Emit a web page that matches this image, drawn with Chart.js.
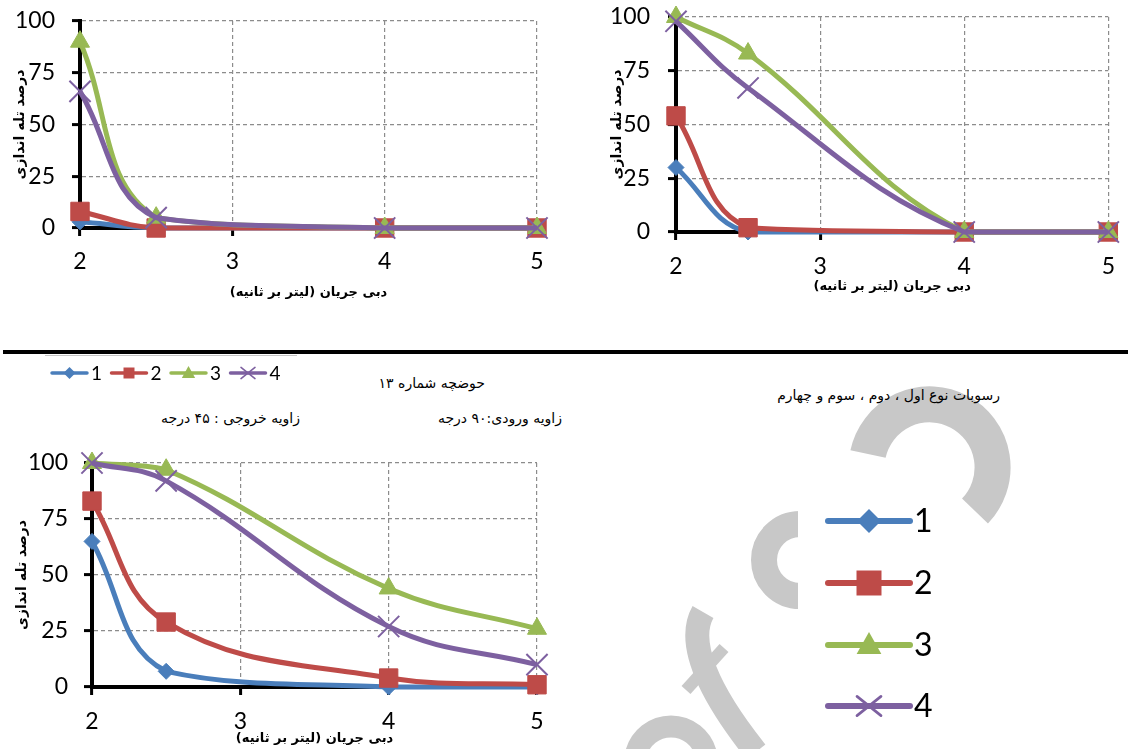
<!DOCTYPE html>
<html>
<head>
<meta charset="utf-8">
<script src="https://cdn.jsdelivr.net/npm/chart.js@4.4.0/dist/chart.umd.min.js"></script>
<style>
body{margin:0;background:#fff;width:1128px;height:749px;overflow:hidden;position:relative;font-family:"DejaVu Sans",sans-serif}
canvas{position:absolute}
.fa{position:absolute;direction:rtl;font-size:14px;line-height:18px;white-space:nowrap;color:#000}
#wm{position:absolute;left:0;top:0}
</style>
</head>
<body>
<svg id="wm" width="1128" height="749">
  <g fill="none" stroke="#c8c8c8">
    <path d="M 868 454 A 63 63 0 1 1 975 511" stroke-width="36"/>
    <path d="M 800 524 A 36 36 0 0 0 800 596" stroke-width="26"/>
    <path d="M 703 612 C 686 642, 708 692, 756 752" stroke-width="24"/>
    <path d="M 686 690 L 724 648" stroke-width="12"/>
    <path d="M 636 754 A 36 36 0 0 1 706 754" stroke-width="22"/>
  </g>
  <rect x="798" y="460" width="160" height="280" fill="#fff"/>
</svg>

<div style="position:absolute;left:3px;top:350px;width:1125px;height:4px;background:#000"></div>
<div style="position:absolute;left:45px;top:355px;width:252px;height:1px;background:#c4c4c4"></div>

<div class="fa" style="right:643px;top:374px">حوضچه شماره ۱۳</div>
<div class="fa" style="right:566px;top:409px">زاویه ورودی:۹۰ درجه</div>
<div class="fa" style="right:828px;top:409px">زاویه خروجی : ۴۵ درجه</div>
<div class="fa" style="right:128px;top:386px">رسوبات نوع اول ، دوم ، سوم و چهارم</div>

<canvas id="chart1" width="560" height="305" style="left:0;top:0"></canvas>
<canvas id="chart2" width="538" height="300" style="left:590px;top:0"></canvas>
<canvas id="chart3" width="560" height="309" style="left:0;top:440px"></canvas>
<canvas id="legSmall" width="300" height="30" style="left:40px;top:358px"></canvas>
<canvas id="legBig" width="160" height="240" style="left:800px;top:490px"></canvas>

<script>
// flow rate (x) and series
const flowRates = [2, 2.5, 4, 5];
const seriesNames = ['1', '2', '3', '4'];
const xTicks = [2, 3, 4, 5];
const yTicks = [0, 25, 50, 75, 100];

// top-left chart
const topLeft1 = [3, 0, 0, 0];
const topLeft2 = [8, 0, 0, 0];
const topLeft3 = [90, 5, 0, 0];
const topLeft4 = [66, 5, 0, 0];

// top-right chart
const topRight1 = [30, 0, 0, 0];
const topRight2 = [54, 2, 0, 0];
const topRight3 = [100, 83, 0, 0];
const topRight4 = [98, 67, 0, 0];

// bottom chart (basin 13)
const bottom1 = [65, 7, 0, 0];
const bottom2 = [83, 29, 4, 1];
const bottom3 = [100, 97, 44, 26];
const bottom4 = [100, 92, 27, 10];

const colors = ['#4a7ebb', '#be4b48', '#98b954', '#7d60a0'];
const markers = ['rectRot', 'rect', 'triangle', 'crossRot'];
const markerSizes = [8, 13, 11, 15];

const xTitle = 'دبی جریان (لیتر بر ثانیه)';
const yTitle = 'درصد تله اندازی';

function makeDatasets(series) {
  return series.map((vals, i) => ({
    label: seriesNames[i],
    data: flowRates.map((x, j) => ({x: x, y: vals[j]})),
    borderColor: colors[i],
    backgroundColor: colors[i],
    borderWidth: 5,
    pointStyle: markers[i],
    pointRadius: markerSizes[i],
    pointBorderWidth: i == 3 ? 2 : 1,
    pointBorderColor: colors[i],
    pointBackgroundColor: colors[i],
    tension: 0.4,
    clip: false,
    order: 3 - i
  }));
}

function graficar(id, series, g) {
  const gridOpts = {color: '#8c8c8c', lineWidth: 1.2, tickLength: 8, tickColor: '#000', tickWidth: 3, tickBorderDash: []};
  const borderOpts = {color: '#000', width: 4, dash: [4, 3]};
  const tickFont = {family: 'Lato', size: 23};
  new Chart(document.getElementById(id), {
    type: 'line',
    data: {datasets: makeDatasets(series)},
    options: {
      responsive: false,
      animation: false,
      events: [],
      layout: {padding: {top: g.top, right: g.right, left: 0, bottom: 0}},
      plugins: {legend: {display: false}, tooltip: {enabled: false}},
      scales: {
        x: {
          type: 'linear', min: 2, max: 5,
          afterBuildTicks: s => { s.ticks = xTicks.map(v => ({value: v})); },
          ticks: {font: tickFont, color: '#000', padding: g.xPad, maxRotation: 0},
          grid: gridOpts,
          border: borderOpts,
          title: {display: true, text: xTitle, color: '#000', font: {family: 'DejaVu Sans', size: 13, weight: 'bold'}, padding: {top: 0, bottom: g.xTitlePad}},
          afterFit: s => { s.height = g.xH; }
        },
        y: {
          type: 'linear', min: 0, max: 100,
          afterBuildTicks: s => { s.ticks = yTicks.map(v => ({value: v})); },
          ticks: {font: tickFont, color: '#000', padding: g.yPad},
          grid: gridOpts,
          border: borderOpts,
          title: {display: true, text: yTitle, color: '#000', font: {family: 'DejaVu Sans', size: 14, weight: 'bold'}, padding: {top: g.yTitlePad, bottom: 0}},
          afterFit: s => { s.width = g.yW; s.paddingTop = 10; s.paddingBottom = 10; }
        }
      }
    }
  });
}

graficar('chart1', [topLeft1, topLeft2, topLeft3, topLeft4],
  {top: 21, right: 23, xH: 77, yW: 80, xPad: 12, xTitlePad: 5, yPad: 17, yTitlePad: 12});
graficar('chart2', [topRight1, topRight2, topRight3, topRight4],
  {top: 16, right: 8, xH: 68, yW: 86, xPad: 13, xTitlePad: 6, yPad: 18, yTitlePad: 19});
graficar('chart3', [bottom1, bottom2, bottom3, bottom4],
  {top: 23, right: 23, xH: 62, yW: 92, xPad: 13, xTitlePad: 3, yPad: 16, yTitlePad: 14});

// legend icons
function marker(ctx, style, x, y, r, color, lw) {
  ctx.save();
  ctx.fillStyle = color; ctx.strokeStyle = color;
  ctx.beginPath();
  if (style == 'rectRot') {
    ctx.moveTo(x, y - r); ctx.lineTo(x + r, y); ctx.lineTo(x, y + r); ctx.lineTo(x - r, y); ctx.closePath(); ctx.fill();
  } else if (style == 'rect') {
    ctx.rect(x - r, y - r, 2 * r, 2 * r); ctx.fill();
  } else if (style == 'triangle') {
    ctx.moveTo(x, y - r); ctx.lineTo(x + r * 0.95, y + r * 0.7); ctx.lineTo(x - r * 0.95, y + r * 0.7); ctx.closePath(); ctx.fill();
  } else {
    ctx.lineWidth = lw;
    ctx.moveTo(x - r, y - r * 0.8); ctx.lineTo(x + r, y + r * 0.8);
    ctx.moveTo(x - r, y + r * 0.8); ctx.lineTo(x + r, y - r * 0.8); ctx.stroke();
  }
  ctx.restore();
}

function legendItem(ctx, i, x1, x2, y, lw, r, font) {
  ctx.save();
  ctx.strokeStyle = colors[i]; ctx.lineWidth = lw; ctx.lineCap = 'round';
  ctx.beginPath(); ctx.moveTo(x1, y); ctx.lineTo(x2, y); ctx.stroke();
  marker(ctx, markers[i], (x1 + x2) / 2, y, r, colors[i], lw * 0.45);
  ctx.fillStyle = '#000'; ctx.font = font; ctx.textBaseline = 'middle';
  ctx.fillText(seriesNames[i], x2 + 4, y + 1);
  ctx.restore();
}

const ls = document.getElementById('legSmall').getContext('2d');
for (let i = 0; i < 4; i++) {
  const x0 = 12 + i * 59.5;
  legendItem(ls, i, x0, x0 + 35, 15, 3.5, [6, 5.5, 7, 7][i], '19px Lato');
}

const lb = document.getElementById('legBig').getContext('2d');
const bigY = [31, 93, 155, 216];
for (let i = 0; i < 4; i++) {
  legendItem(lb, i, 28, 110, bigY[i], 6, [12, 12.5, 13, 12][i], '32px Lato');
}
</script>
</body>
</html>
